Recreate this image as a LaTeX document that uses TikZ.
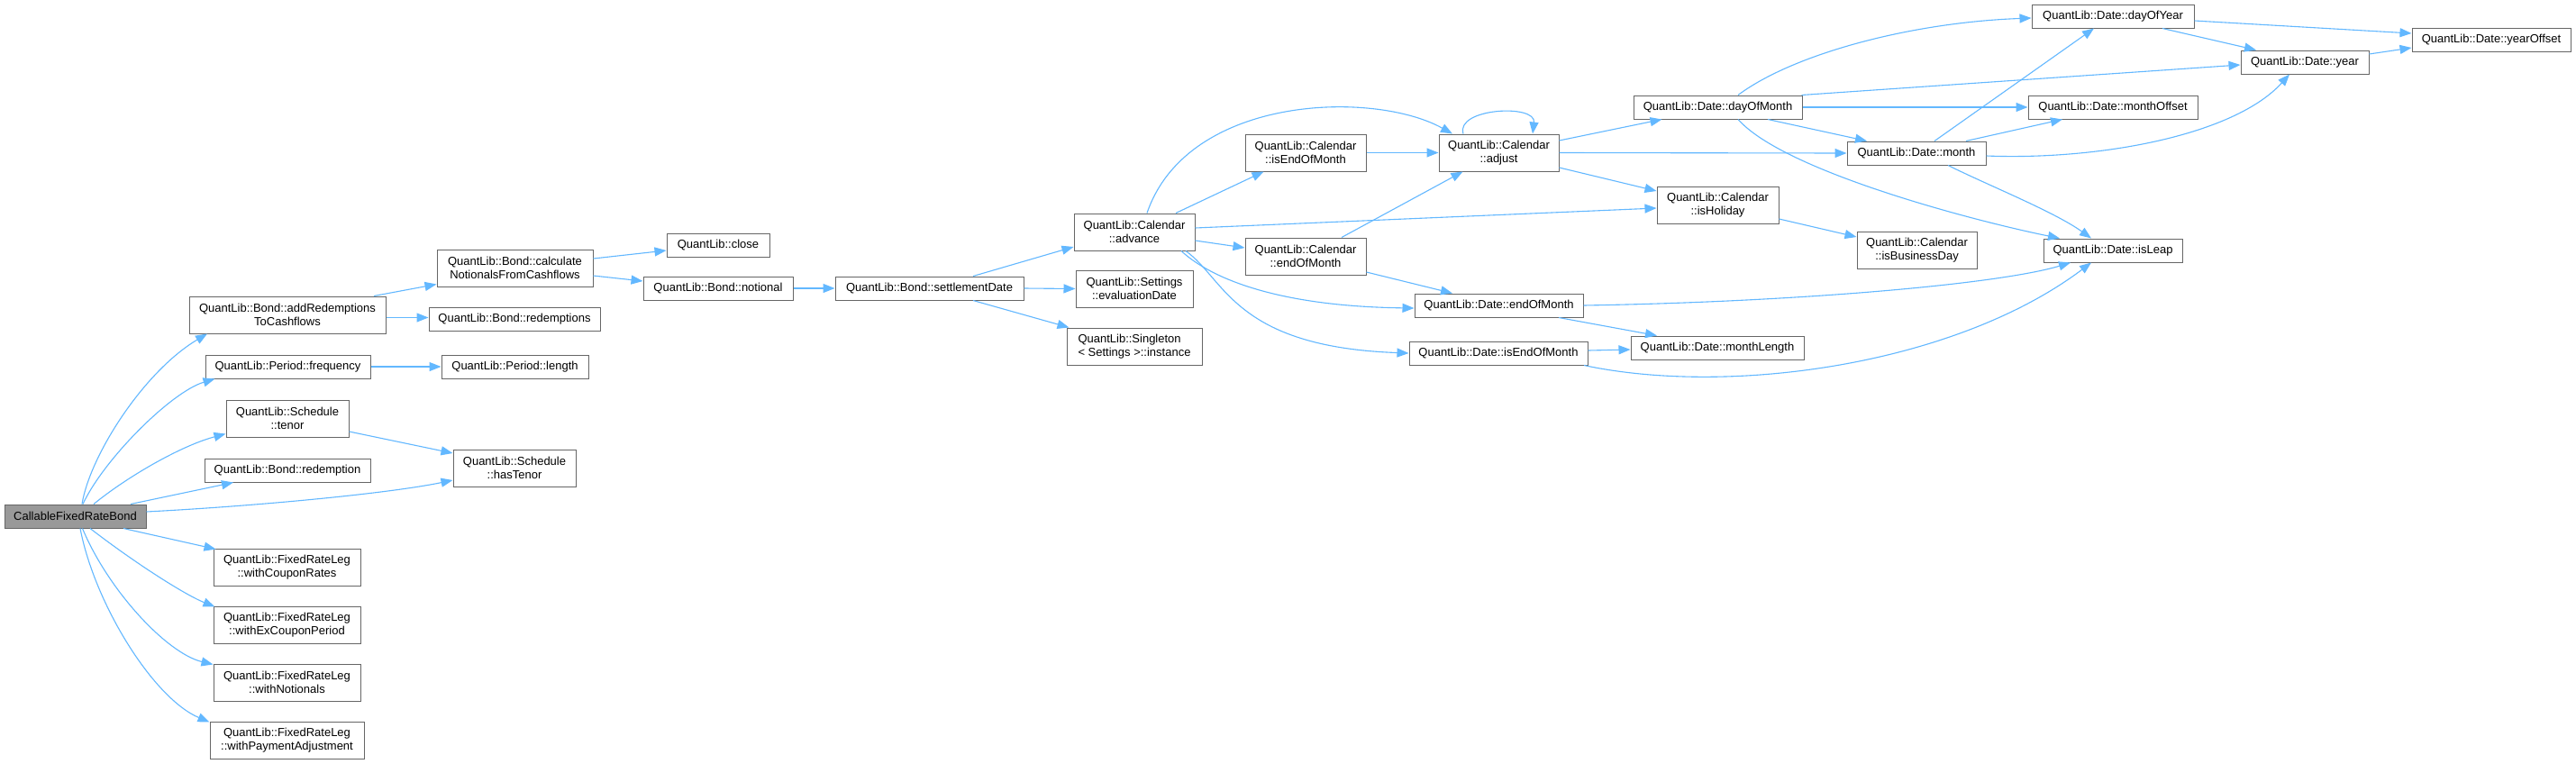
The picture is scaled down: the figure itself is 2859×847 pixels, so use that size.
\documentclass[tikz,border=0pt]{standalone}
\usepackage{fontspec}
\setmainfont{Liberation Sans}
\usetikzlibrary{arrows.meta}
\definecolor{edgeblue}{HTML}{63B8FF}
\definecolor{boxborder}{HTML}{666666}
\definecolor{rootfill}{HTML}{999999}
\begin{document}
\begin{tikzpicture}[x=1pt,y=1pt,
  box/.style={draw=boxborder, line width=1pt, fill=white, inner sep=0pt, align=center,
    font=\fontsize{13}{15}\selectfont},
  root/.style={box, fill=rootfill},
  edge/.style={draw=edgeblue, line width=1.1pt, -{Triangle[length=13pt,width=10pt]}}]
\fill[white] (0,0) rectangle (2859,-847);
\useasboundingbox (0,0) rectangle (2859,-847);
% column 1
\node[root, minimum width=157, minimum height=26] (C) at (83.5,-573) {CallableFixedRateBond};
% column 2
\node[box, minimum width=218, minimum height=41] (addR) at (319,-349.5) {QuantLib::Bond::addRedemptions\\ToCashflows};
\node[box, minimum width=183, minimum height=26] (freq) at (319.5,-407) {QuantLib::Period::frequency};
\node[box, minimum width=136, minimum height=41] (tenor) at (319,-464.5) {QuantLib::Schedule\\::tenor};
\node[box, minimum width=184, minimum height=26] (redemption) at (319,-522) {QuantLib::Bond::redemption};
\node[box, minimum width=163, minimum height=41] (wCR) at (318.5,-629.5) {QuantLib::FixedRateLeg\\::withCouponRates};
\node[box, minimum width=163, minimum height=41] (wECP) at (318.5,-693.5) {QuantLib::FixedRateLeg\\::withExCouponPeriod};
\node[box, minimum width=163, minimum height=41] (wN) at (318.5,-757.5) {QuantLib::FixedRateLeg\\::withNotionals};
\node[box, minimum width=171, minimum height=41] (wPA) at (318.5,-821.5) {QuantLib::FixedRateLeg\\::withPaymentAdjustment};
% column 3
\node[box, minimum width=173, minimum height=41] (calcN) at (571.5,-297.5) {QuantLib::Bond::calculate\\NotionalsFromCashflows};
\node[box, minimum width=190, minimum height=26] (redemptions) at (571,-354) {QuantLib::Bond::redemptions};
\node[box, minimum width=163, minimum height=26] (length) at (571.5,-407) {QuantLib::Period::length};
\node[box, minimum width=136, minimum height=41] (hasTenor) at (571,-519.5) {QuantLib::Schedule\\::hasTenor};
% column 4-5
\node[box, minimum width=114, minimum height=26] (close) at (797,-272) {QuantLib::close};
\node[box, minimum width=166, minimum height=26] (notional) at (797,-320) {QuantLib::Bond::notional};
\node[box, minimum width=209, minimum height=26] (settle) at (1031.5,-320) {QuantLib::Bond::settlementDate};
% column 6
\node[box, minimum width=134, minimum height=41] (advance) at (1259,-257.5) {QuantLib::Calendar\\::advance};
\node[box, minimum width=130, minimum height=41] (evalDate) at (1259,-320.5) {QuantLib::Settings\\::evaluationDate};
\node[box, minimum width=150, minimum height=41, align=left] (instance) at (1259,-384.5) {QuantLib::Singleton\\< Settings >::instance};
% column 7
\node[box, minimum width=134, minimum height=41] (calIsEOM) at (1449,-169.5) {QuantLib::Calendar\\::isEndOfMonth};
\node[box, minimum width=134, minimum height=41] (calEOM) at (1449,-284.5) {QuantLib::Calendar\\::endOfMonth};
% column 8
\node[box, minimum width=133, minimum height=41] (adjust) at (1663.5,-169.5) {QuantLib::Calendar\\::adjust};
\node[box, minimum width=187, minimum height=26] (dateEOM) at (1663.5,-339) {QuantLib::Date::endOfMonth};
\node[box, minimum width=198, minimum height=26] (dateIsEOM) at (1663,-392) {QuantLib::Date::isEndOfMonth};
% column 9
\node[box, minimum width=187, minimum height=26] (dayOfMonth) at (1906.5,-119) {QuantLib::Date::dayOfMonth};
\node[box, minimum width=135, minimum height=41] (isHoliday) at (1906.5,-227.5) {QuantLib::Calendar\\::isHoliday};
\node[box, minimum width=192, minimum height=26] (monthLength) at (1906,-386) {QuantLib::Date::monthLength};
% column 10
\node[box, minimum width=154, minimum height=26] (month) at (2127,-170) {QuantLib::Date::month};
\node[box, minimum width=133, minimum height=41] (isBusinessDay) at (2127.5,-277.5) {QuantLib::Calendar\\::isBusinessDay};
% column 11
\node[box, minimum width=180, minimum height=26] (dayOfYear) at (2345,-18) {QuantLib::Date::dayOfYear};
\node[box, minimum width=188, minimum height=26] (monthOffset) at (2345,-119) {QuantLib::Date::monthOffset};
\node[box, minimum width=154, minimum height=26] (isLeap) at (2345,-278) {QuantLib::Date::isLeap};
% column 12-13
\node[box, minimum width=142, minimum height=26] (year) at (2558,-69) {QuantLib::Date::year};
\node[box, minimum width=176, minimum height=26] (yearOffset) at (2765,-44) {QuantLib::Date::yearOffset};

% edges from root
\draw[edge] ([xshift=7.5pt]C.north) .. controls (100,-505) and (160,-412) .. ([xshift=-89pt]addR.south);
\draw[edge] ([xshift=8.5pt]C.north) .. controls (115,-510) and (190,-435) .. ([xshift=11pt]freq.south west);
\draw[edge] ([xshift=20.5pt]C.north) .. controls (140,-530) and (200,-495) .. ([yshift=4pt]tenor.south west);
\draw[edge] ([xshift=61.5pt]C.north) -- ([xshift=-60pt]redemption.south);
\draw[edge] ([yshift=5pt]C.east) .. controls (280,-562) and (430,-548) .. ([yshift=-13.5pt]hasTenor.west);
\draw[edge] ([xshift=53.5pt]C.south) -- ([shift={(3pt,-1pt)}]wCR.north west);
\draw[edge] ([xshift=16.5pt]C.south) .. controls (150,-625) and (205,-660) .. ([shift={(2pt,-1pt)}]wECP.north west);
\draw[edge] ([xshift=8pt]C.south) .. controls (120,-655) and (185,-725) .. ([shift={(0pt,-1pt)}]wN.north west);
\draw[edge] ([xshift=5.5pt]C.south) .. controls (105,-670) and (170,-775) .. ([shift={(0pt,-1pt)}]wPA.north west);
% column 2 -> 3
\draw[edge] ([xshift=96pt]addR.north) -- ([yshift=3pt]calcN.south west);
\draw[edge] ([yshift=-3pt]addR.east) -- ([yshift=1.5pt]redemptions.west);
\draw[edge] (freq.east) -- (length.west);
\draw[edge] ([yshift=-14.5pt]tenor.east) -- ([yshift=16.5pt]hasTenor.west);
% column 3 -> 4 -> 5
\draw[edge] ([yshift=10.5pt]calcN.east) -- ([yshift=-6pt]close.west);
\draw[edge] ([yshift=-8.5pt]calcN.east) -- ([yshift=8pt]notional.west);
\draw[edge] (notional.east) -- (settle.west);
\draw[edge] ([xshift=48.5pt]settle.north) -- ([yshift=-16.5pt]advance.west);
\draw[edge] (settle.east) -- (evalDate.west);
\draw[edge] ([xshift=48.5pt]settle.south) -- ([shift={(3pt,0pt)}]instance.north west);
% from advance
\draw[edge] ([xshift=14pt]advance.north) .. controls (1318,-105) and (1525,-100) .. ([xshift=-51.5pt]adjust.north);
\draw[edge] ([xshift=46pt]advance.north) -- ([xshift=-46.5pt]calIsEOM.south);
\draw[edge] ([yshift=4.5pt]advance.east) -- ([yshift=-3.5pt]isHoliday.west);
\draw[edge] ([yshift=-9.5pt]advance.east) -- ([yshift=9.5pt]calEOM.west);
\draw[edge] ([xshift=52pt]advance.south) .. controls (1345,-310) and (1420,-340) .. ([yshift=-3pt]dateEOM.west);
\draw[edge] ([xshift=57pt]advance.south) .. controls (1360,-310) and (1370,-385) .. (dateIsEOM.west);
% calendar helpers
\draw[edge] (calIsEOM.east) -- (adjust.west);
\draw[edge] ([xshift=40pt]calEOM.north) -- ([xshift=-40pt]adjust.south);
\draw[edge] ([yshift=-17.5pt]calEOM.east) -- ([xshift=-51.5pt]dateEOM.north);
% from adjust
\draw[edge] ([xshift=-39.5pt]adjust.north) .. controls (1615,-120) and (1705,-115) .. ([xshift=37.5pt]adjust.north);
\draw[edge] ([yshift=13.5pt]adjust.east) -- ([xshift=-62pt]dayOfMonth.south);
\draw[edge] (adjust.east) -- (month.west);
\draw[edge] ([yshift=-16.5pt]adjust.east) -- ([yshift=15.5pt]isHoliday.west);
\draw[edge] ([yshift=-15.5pt]isHoliday.east) -- ([yshift=14.5pt]isBusinessDay.west);
% date end of month
\draw[edge] ([xshift=66.5pt]dateEOM.south) -- ([xshift=-67pt]monthLength.north);
\draw[edge] (dateEOM.east) .. controls (2000,-335) and (2220,-315) .. ([xshift=-47pt]isLeap.south);
\draw[edge] ([yshift=3pt]dateIsEOM.east) -- ([yshift=-2pt]monthLength.west);
\draw[edge] ([xshift=95pt]dateIsEOM.south) .. controls (1920,-440) and (2170,-405) .. ([xshift=-24pt]isLeap.south);
% from dayOfMonth
\draw[edge] ([xshift=22.5pt]dayOfMonth.north) .. controls (1990,-60) and (2120,-25) .. ([yshift=-2pt]dayOfYear.west);
\draw[edge] ([xshift=-1pt]dayOfMonth.north east) -- ([yshift=-3pt]year.west);
\draw[edge] (dayOfMonth.east) -- (monthOffset.west);
\draw[edge] ([xshift=55.5pt]dayOfMonth.south) -- ([xshift=-55pt]month.north);
\draw[edge] ([xshift=22.5pt]dayOfMonth.south) .. controls (1980,-190) and (2190,-245) .. ([xshift=-59pt]isLeap.north);
% from month
\draw[edge] ([xshift=20pt]month.north) -- ([xshift=-21pt]dayOfYear.south);
\draw[edge] ([xshift=55pt]month.north) -- ([xshift=-56pt]monthOffset.south);
\draw[edge] ([yshift=-3pt]month.east) .. controls (2330,-178) and (2480,-150) .. ([xshift=-17pt]year.south);
\draw[edge] ([xshift=35pt]month.south) .. controls (2205,-205) and (2280,-235) .. ([xshift=-24pt]isLeap.north);
% year stuff
\draw[edge] ([yshift=-5pt]dayOfYear.east) -- ([yshift=7pt]yearOffset.west);
\draw[edge] ([xshift=55pt]dayOfYear.south) -- ([xshift=-54pt]year.north);
\draw[edge] ([yshift=9pt]year.east) -- ([yshift=-9pt]yearOffset.west);
\end{tikzpicture}
\end{document}
